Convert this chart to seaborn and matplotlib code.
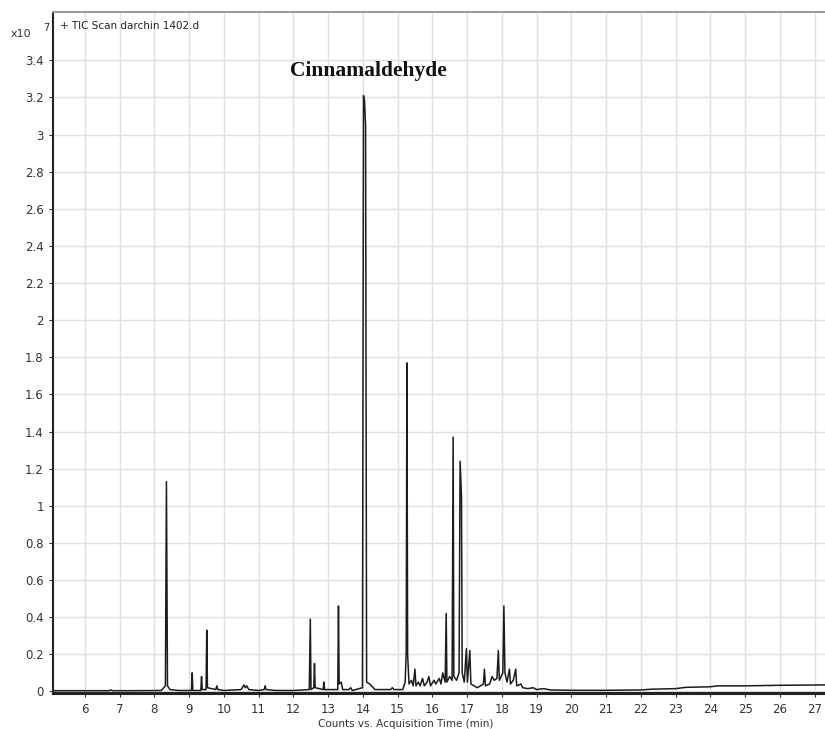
import matplotlib
matplotlib.use("Agg")
import pandas as pd
import matplotlib.pyplot as plt
import seaborn as sns

# retention time (min) and TIC counts (x10^7)
rt = [5.10, 6.70, 6.75, 6.80, 7.40, 8.20,
      8.32, 8.35, 8.365, 8.38, 8.45, 8.70,
      9.07, 9.09, 9.11, 9.34, 9.36, 9.38, 9.49, 9.51, 9.53,
      9.77, 9.80, 9.83, 10.00, 10.50, 10.58, 10.62, 10.66, 10.72,
      11.00, 11.16, 11.19, 11.22, 11.50, 12.00, 12.46,
      12.49, 12.51, 12.59, 12.61, 12.63, 12.86, 12.88, 12.90,
      13.28, 13.30, 13.32, 13.38, 13.42, 13.60, 13.65, 13.70,
      13.99, 14.02, 14.05, 14.08, 14.11, 14.20, 14.30, 14.35,
      14.80, 14.85, 14.90, 15.15, 15.22, 15.25, 15.27, 15.29, 15.33,
      15.40, 15.45, 15.50, 15.53, 15.60, 15.65, 15.72, 15.77,
      15.85, 15.90, 15.95, 16.05, 16.10, 16.20, 16.25, 16.30, 16.37,
      16.40, 16.42, 16.50, 16.57, 16.60, 16.62, 16.70, 16.77,
      16.80, 16.84, 16.86, 16.92, 16.98, 17.01, 17.08, 17.11,
      17.20, 17.30, 17.47, 17.50, 17.53, 17.65, 17.72, 17.78,
      17.86, 17.90, 17.93, 18.03, 18.06, 18.09, 18.15, 18.22, 18.25,
      18.33, 18.40, 18.43, 18.55, 18.60, 18.75, 18.90, 19.00,
      19.20, 19.40, 20.00, 21.00, 22.00, 22.30, 23.00, 23.30,
      24.00, 24.20, 25.00, 26.00, 27.30]
tic = [0.004, 0.004, 0.008, 0.004, 0.004, 0.005,
       0.03, 1.13, 0.60, 0.03, 0.01, 0.005,
       0.005, 0.10, 0.005, 0.005, 0.08, 0.01, 0.01, 0.33, 0.02,
       0.01, 0.03, 0.01, 0.005, 0.01, 0.035, 0.02, 0.03, 0.01,
       0.005, 0.01, 0.03, 0.01, 0.005, 0.005, 0.01,
       0.39, 0.01, 0.02, 0.15, 0.02, 0.01, 0.05, 0.01,
       0.01, 0.46, 0.04, 0.05, 0.01, 0.01, 0.02, 0.005,
       0.02, 3.21, 3.18, 3.05, 0.05, 0.04, 0.02, 0.01,
       0.01, 0.02, 0.01, 0.01, 0.05, 0.22, 1.77, 0.20, 0.04,
       0.06, 0.03, 0.12, 0.03, 0.05, 0.03, 0.07, 0.03,
       0.05, 0.08, 0.03, 0.06, 0.04, 0.07, 0.04, 0.10, 0.05,
       0.42, 0.05, 0.08, 0.06, 1.37, 0.08, 0.06, 0.10,
       1.24, 1.05, 0.10, 0.05, 0.23, 0.05, 0.22, 0.04,
       0.03, 0.02, 0.04, 0.12, 0.03, 0.04, 0.08, 0.06,
       0.07, 0.22, 0.06, 0.10, 0.46, 0.10, 0.05, 0.12, 0.04,
       0.06, 0.12, 0.03, 0.04, 0.02, 0.015, 0.02, 0.01,
       0.015, 0.008, 0.006, 0.006, 0.008, 0.012, 0.015, 0.022,
       0.025, 0.03, 0.03, 0.033, 0.035]

xticks = list(range(6, 28))
yticks = [0, 0.2, 0.4, 0.6, 0.8, 1, 1.2, 1.4, 1.6, 1.8, 2, 2.2, 2.4, 2.6, 2.8, 3, 3.2, 3.4]
ytick_labels = ["0", "0.2", "0.4", "0.6", "0.8", "1", "1.2", "1.4", "1.6", "1.8",
                "2", "2.2", "2.4", "2.6", "2.8", "3", "3.2", "3.4"]

df = pd.DataFrame({"rt": rt, "tic": tic})

sns.set_style("white")
fig = plt.figure(figsize=(8.25, 7.29), dpi=100)
ax = fig.add_axes([0.064, 0.049, 0.936, 0.9345])

sns.lineplot(data=df, x="rt", y="tic", estimator=None, sort=False,
             color="#1c1c1c", linewidth=1.1, ax=ax)

ax.set_xlim(5.08, 27.3)
ax.set_ylim(-0.01, 3.66)
ax.set_xticks(xticks)
ax.set_yticks(yticks)
ax.set_yticklabels(ytick_labels)
ax.grid(True, color="#e0e0e0", linewidth=1)
ax.set_axisbelow(True)
ax.tick_params(axis="both", labelsize=8.5, colors="#333333", length=3,
               direction="out", left=True, bottom=True)
ax.tick_params(axis="x", pad=4)
ax.set_xlabel("")
ax.set_ylabel("")

for side in ["left", "bottom"]:
    ax.spines[side].set_color("#222222")
ax.spines["left"].set_linewidth(1.5)
ax.spines["bottom"].set_linewidth(2.2)
ax.spines["top"].set_color("#9a9a9a")
ax.spines["top"].set_linewidth(1.5)
ax.spines["right"].set_visible(False)

ax.text(0.009, 0.979, "+ TIC Scan darchin 1402.d", transform=ax.transAxes,
        fontsize=7.5, color="#222222", va="center", ha="left")
ax.text(14.15, 3.34, "Cinnamaldehyde", fontsize=15.5, fontweight="bold",
        family="Liberation Serif", ha="center", va="center", color="#111111")

fig.text(0.013, 0.954, "x10", fontsize=8, color="#333333", va="center")
fig.text(0.052, 0.962, "7", fontsize=7, color="#333333", va="center")
fig.text(0.492, 0.0, "Counts vs. Acquisition Time (min)", fontsize=7.5,
         color="#333333", ha="center", va="bottom")

fig.savefig("out.png", dpi=100)
